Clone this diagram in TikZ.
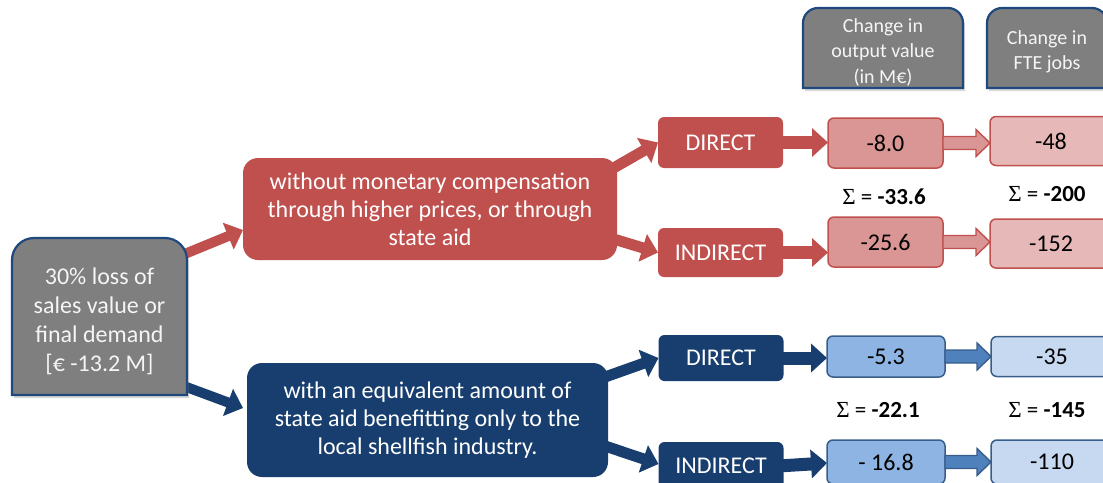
\documentclass[tikz,border=0pt]{standalone}
\usepackage{fontspec}
\setmainfont{Carlito}
\newfontfamily\sigfont{Liberation Serif}
\usetikzlibrary{arrows.meta,calc,backgrounds,shadows}
\definecolor{gfill}{RGB}{127,127,127}
\definecolor{dblue}{RGB}{31,73,125}
\definecolor{redA}{RGB}{192,80,77}
\definecolor{redB}{RGB}{217,150,148}
\definecolor{redC}{RGB}{230,185,184}
\definecolor{blueA}{RGB}{23,62,110}
\definecolor{blueB}{RGB}{142,180,227}
\definecolor{blueC}{RGB}{198,217,241}
\definecolor{blueBorder}{RGB}{56,93,138}
\definecolor{blueMid}{RGB}{79,129,189}
\newcommand\toproundpath[3]{%
  \draw[#3] (#1.south west) -- ([yshift=-#2]#1.north west)
    arc[start angle=180,end angle=90,radius=#2]
    -- ([xshift=-#2]#1.north east)
    arc[start angle=90,end angle=0,radius=#2]
    -- (#1.south east) -- cycle;}
\newcommand\lgtarr[3]{%
  \draw[#1] ($(#2.east)+(0,-6.5)$) -- ($(#3.west |- #2.east)+(-14,-6.5)$)
    -- ($(#3.west |- #2.east)+(-14,-13.5)$) -- (#3.west |- #2.east)
    -- ($(#3.west |- #2.east)+(-14,13.5)$) -- ($(#3.west |- #2.east)+(-14,6.5)$)
    -- ($(#2.east)+(0,6.5)$) -- cycle;}
\newcommand\sumtext[1]{{\sigfont Σ} = \textbf{#1}}
\begin{document}
\begin{tikzpicture}[x=1pt,y=-1pt,
  every node/.style={inner sep=0pt, outer sep=0pt, align=center},
  graybox/.style={fill=gfill, draw=dblue, line width=2.2pt,
    drop shadow={opacity=0.3, shadow xshift=2pt, shadow yshift=-3pt}},
  graytext/.style={text=white!92!gray},
  bigbox/.style={rounded corners=15pt, text=white, font=\fontsize{24}{28}\selectfont},
  kindbox/.style={rounded corners=6pt, text=white, font=\fontsize{24}{28}\selectfont,
    minimum width=125pt},
  valbox/.style={rounded corners=6pt, line width=1.5pt, font=\fontsize{24}{28}\selectfont},
  sumlabel/.style={font=\fontsize{23}{27}\selectfont},
  thickR/.style={draw=redA, line width=11pt, -{Triangle[width=28pt,length=16pt]}},
  thickB/.style={draw=blueA, line width=11pt, -{Triangle[width=28pt,length=16pt]}},
  lightR/.style={fill=redB, draw=redA, line width=1.4pt, line join=miter},
  lightB/.style={fill=blueMid, draw=blueBorder, line width=1.4pt, line join=miter}
]
\useasboundingbox (0,0) rectangle (1103,482);
\clip (0,0) rectangle (1103,482);

% source box
\node[minimum width=175pt, minimum height=157pt] (src) at (99.5,316.5) {};
\toproundpath{src}{22pt}{graybox}
\node[graytext, font=\fontsize{24}{29}\selectfont] (srct) at (99.5,321)
  {30\% loss of\\sales value or\\final demand\\{[}€ -13.2 M{]}};

% headers
\node[minimum width=160pt, minimum height=80pt] (h1) at (883,48) {};
\toproundpath{h1}{15pt}{graybox}
\node[graytext, font=\fontsize{20}{25.5}\selectfont] (h1t) at (883,52)
  {Change in\\output value\\(in M€)};
\node[minimum width=120pt, minimum height=80pt] (h2) at (1047,48) {};
\toproundpath{h2}{15pt}{graybox}
\node[graytext, font=\fontsize{20}{25.5}\selectfont] (h2t) at (1047,52)
  {Change in\\FTE jobs};

% scenario boxes
\node[bigbox, fill=redA, minimum width=374pt, minimum height=102pt] (red) at (430,209)
  {without monetary compensation\\through higher prices, or through\\state aid};
\node[bigbox, fill=blueA, minimum width=361pt, minimum height=114pt] (blue) at (427.5,420)
  {with an equivalent amount of\\state aid benefitting only to the\\local shellfish industry.};

% direct / indirect
\node[kindbox, fill=redA, minimum height=51pt] (rD) at (720.5,142.5) {DIRECT};
\node[kindbox, fill=redA, minimum height=49pt] (rI) at (720.5,252.5) {INDIRECT};
\node[kindbox, fill=blueA, minimum height=46pt] (bD) at (721,358) {DIRECT};
\node[kindbox, fill=blueA, minimum height=48pt] (bI) at (721,466) {INDIRECT};

% values
\node[valbox, fill=redB, draw=redA, minimum width=115pt, minimum height=50pt] (r1) at (885.5,143) {-8.0};
\node[valbox, fill=redC, draw=redA, minimum width=122pt, minimum height=49pt] (r2) at (1051,141) {-48};
\node[valbox, fill=redB, draw=redA, minimum width=115pt, minimum height=50pt] (r3) at (885.5,242) {-25.6};
\node[valbox, fill=redC, draw=redA, minimum width=122pt, minimum height=49pt] (r4) at (1051,243.5) {-152};
\node[valbox, fill=blueB, draw=blueBorder, minimum width=118pt, minimum height=41pt] (b1) at (886,356.5) {-5.3};
\node[valbox, fill=blueC, draw=blueBorder, minimum width=122pt, minimum height=40pt] (b2) at (1052,356.5) {-35};
\node[valbox, fill=blueB, draw=blueBorder, minimum width=118pt, minimum height=44pt] (b3) at (886,462) {- 16.8};
\node[valbox, fill=blueC, draw=blueBorder, minimum width=122pt, minimum height=44pt] (b4) at (1052,462) {-110};

% sums
\node[sumlabel] (s1) at (884,197) {\sumtext{-33.6}};
\node[sumlabel] (s2) at (1047,194) {\sumtext{-200}};
\node[sumlabel] (s3) at (878,410) {\sumtext{-22.1}};
\node[sumlabel] (s4) at (1047,410) {\sumtext{-145}};

% light arrows between values
\lgtarr{lightR}{r1}{r2}
\lgtarr{lightR}{r3}{r4}
\lgtarr{lightB}{b1}{b2}
\lgtarr{lightB}{b3}{b4}

% thick arrows behind boxes
\begin{scope}[on background layer]
\draw[thickR, line width=10pt] ($(src.north east)+(-6,17.5)$) -- ($(red.south west)+(0,-30)$);
\draw[thickB, line width=10pt] ($(src.south east)+(-6,-10)$) -- ($(blue.north west)+(-4,45)$);
\draw[thickR] ($(red.north east)+(-8,12.6)$) -- (rD.west);
\draw[thickR] ($(red.south east)+(-8,-22.4)$) -- (rI.west);
\draw[thickB] ($(blue.north east)+(-8,15.8)$) -- (bD.west);
\draw[thickB] ($(blue.south east)+(-8,-32.7)$) -- ($(bI.west)+(0,-2)$);
\draw[thickR, line width=13pt] ($(rD.east)+(-5,0)$) -- (r1.west |- rD.east);
\draw[thickR, line width=13pt] ($(rI.east)+(-5,0)$) -- (r3.west |- rI.east);
\draw[thickB, line width=13pt] ($(bD.east)+(-5,0)$) -- (b1.west |- bD.east);
\draw[thickB, line width=13pt] ($(bI.east)+(-5,0)$) -- ($(b3.west |- bI.east)+(0,-3)$);
\end{scope}
\end{tikzpicture}
\end{document}
